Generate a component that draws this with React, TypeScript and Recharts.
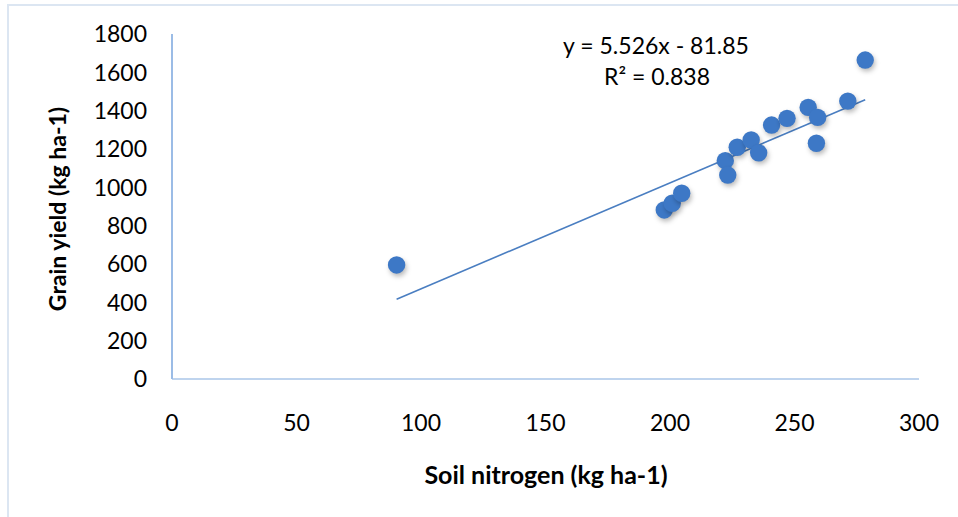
import React from 'react';
import { ScatterChart, Scatter, XAxis, YAxis } from 'recharts';

// soil nitrogen (kg ha-1) and grain yield (kg ha-1)
const soilNitrogen = [90.2, 197.7, 200.9, 204.7, 222.2, 223.2, 227.0, 232.6, 235.6, 240.8, 247.0, 255.5, 258.8, 259.3, 271.4, 278.4];
const grainYield = [595, 882, 917, 969, 1139, 1064, 1209, 1247, 1180, 1325, 1360, 1417, 1230, 1365, 1450, 1664];

const xTicks = [0, 50, 100, 150, 200, 250, 300];
const yTicks = [0, 200, 400, 600, 800, 1000, 1200, 1400, 1600, 1800];

// linear trend as reported on the chart
const slope = 5.526;
const intercept = -81.85;
const equationText = 'y = 5.526x - 81.85';
const r2Text = '0.838';

const FONT = 'Lato, "Open Sans", sans-serif';

const points = soilNitrogen.map((x, i) => ({ x, y: grainYield[i] }));
const xMin = Math.min(...soilNitrogen);
const xMax = Math.max(...soilNitrogen);
const trend = [xMin, xMax].map(x => ({ x, y: slope * x + intercept }));

const Dot = (props: any) => {
  const { cx, cy } = props;
  if (cx == null || cy == null) return null;
  return (
    <g>
      <circle cx={cx + 1.5} cy={cy + 3} r={8.5} fill="rgba(0,0,0,0.28)" filter="url(#dotShadow)" />
      <circle cx={cx} cy={cy} r={8.7} fill="#3D78C6" />
    </g>
  );
};

const XTick = (props: any) => {
  const { x, y, payload } = props;
  return (
    <text x={x} y={y + 44} dy="0.36em" textAnchor="middle" fontSize={23} fontFamily={FONT} fill="#000">
      {payload.value}
    </text>
  );
};

const YTick = (props: any) => {
  const { x, y, payload } = props;
  return (
    <text x={x - 25} y={y} dy="0.36em" textAnchor="end" fontSize={23} fontFamily={FONT} fill="#000">
      {payload.value}
    </text>
  );
};

const App: React.FC = () => {
  return (
    <div style={{ position: 'absolute', left: 0, top: 0, width: 958, height: 517, background: '#fff', overflow: 'hidden', fontFamily: FONT }}>
      <div style={{ position: 'absolute', left: 7, top: 4, width: 980, height: 560, border: '2px solid #DCE6F2' }} />
      <svg width={0} height={0} style={{ position: 'absolute' }}>
        <defs>
          <filter id="dotShadow" x="-50%" y="-50%" width="200%" height="200%">
            <feGaussianBlur stdDeviation="2.4" />
          </filter>
        </defs>
      </svg>
      <div style={{ position: 'absolute', left: 0, top: 0 }}>
        <ScatterChart width={958} height={517} margin={{ top: 34, right: 39, bottom: 38, left: 0 }}>
          <XAxis
            type="number"
            dataKey="x"
            domain={[0, 300]}
            ticks={xTicks}
            tickLine={false}
            tickSize={0}
            tickMargin={0}
            height={100}
            axisLine={{ stroke: '#BFD4EE', strokeWidth: 2 }}
            tick={<XTick />}
            interval={0}
          />
          <YAxis
            type="number"
            dataKey="y"
            domain={[0, 1800]}
            ticks={yTicks}
            tickLine={false}
            tickSize={0}
            tickMargin={0}
            width={172}
            axisLine={{ stroke: '#9BBCE6', strokeWidth: 2 }}
            tick={<YTick />}
            interval={0}
          />
          <Scatter data={trend} line={{ stroke: '#4A7EC1', strokeWidth: 1.6 }} shape={() => null} isAnimationActive={false} />
          <Scatter data={points} shape={<Dot />} isAnimationActive={false} />
        </ScatterChart>
      </div>
      <div style={{ position: 'absolute', left: 656, top: 45, transform: 'translate(-50%, -50%)', fontSize: 23, whiteSpace: 'nowrap', color: '#000' }}>
        {equationText}
      </div>
      <div style={{ position: 'absolute', left: 657, top: 76, transform: 'translate(-50%, -50%)', fontSize: 23, whiteSpace: 'nowrap', color: '#000' }}>
        R² = {r2Text}
      </div>
      <div style={{ position: 'absolute', left: 546, top: 474, transform: 'translate(-50%, -50%)', fontSize: 25, fontWeight: 700, whiteSpace: 'nowrap', color: '#000' }}>
        Soil nitrogen (kg ha-1)
      </div>
      <div style={{ position: 'absolute', left: 57, top: 209, transform: 'translate(-50%, -50%) rotate(-90deg)', fontSize: 23, fontWeight: 700, whiteSpace: 'nowrap', color: '#000' }}>
        Grain yield (kg ha-1)
      </div>
    </div>
  );
};

export default App;
